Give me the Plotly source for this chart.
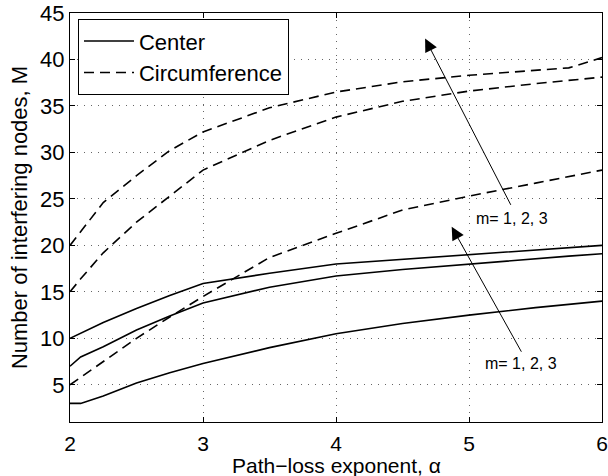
import plotly.graph_objects as go

FONT = "Liberation Sans, Arial, Helvetica, sans-serif"

alpha = [2, 2.08, 2.25, 2.5, 2.75, 3, 3.5, 4, 4.5, 5, 5.5, 5.75, 6]

center_m1 = [10, 10.55, 11.7, 13.2, 14.6, 15.9, 17.0, 18.0, 18.5, 19.0, 19.5, 19.75, 20]
center_m2 = [7, 8.0, 9.1, 10.9, 12.4, 13.8, 15.5, 16.7, 17.4, 18.0, 18.6, 18.85, 19.1]
center_m3 = [3, 3, 3.8, 5.2, 6.3, 7.3, 9.0, 10.5, 11.6, 12.5, 13.3, 13.65, 14]

circ_m1 = [20, 21.5, 24.6, 27.5, 30.2, 32.2, 34.8, 36.5, 37.6, 38.3, 38.8, 39.1, 40.2]
circ_m2 = [15, 16.4, 19.2, 22.5, 25.3, 28.1, 31.3, 33.8, 35.5, 36.6, 37.4, 37.75, 38.1]
circ_m3 = [5, 5.8, 7.5, 10.0, 12.3, 14.5, 18.7, 21.3, 23.8, 25.3, 26.7, 27.4, 28.1]

x_ticks = [2, 3, 4, 5, 6]
y_ticks = [5, 10, 15, 20, 25, 30, 35, 40, 45]

fig = go.Figure()

solid = dict(color="black", width=1.6)
dashed = dict(color="black", width=1.6, dash="10px,6px")

for i, ys in enumerate([center_m1, center_m2, center_m3]):
    fig.add_trace(go.Scatter(x=alpha, y=ys, mode="lines", line=solid,
                             name="Center", showlegend=(i == 0)))
for i, ys in enumerate([circ_m1, circ_m2, circ_m3]):
    fig.add_trace(go.Scatter(x=alpha, y=ys, mode="lines", line=dashed,
                             name="Circumference", showlegend=(i == 0)))

# arrows (tail -> head) and their labels
arrows = [((5.32, 24.2), (4.67, 42.25)), ((5.40, 8.4), (4.87, 22.0))]
for (tx, ty), (hx, hy) in arrows:
    fig.add_annotation(x=hx, y=hy, ax=tx, ay=ty, xref="x", yref="y",
                       axref="x", ayref="y", text="", showarrow=True,
                       arrowhead=2, arrowsize=2.6, arrowwidth=1, arrowcolor="black")

labels = [(5.32, 22.9), (5.39, 7.25)]
for lx, ly in labels:
    fig.add_annotation(x=lx, y=ly, xref="x", yref="y", text="m= 1, 2, 3",
                       showarrow=False, font=dict(size=16, color="black", family=FONT))

# x axis title placed by hand (sits close to the bottom edge)
fig.add_annotation(x=0.5, y=-0.106, xref="paper", yref="paper", yanchor="middle",
                   text="Path\u2212loss exponent, \u03b1", showarrow=False,
                   font=dict(size=21, color="black", family=FONT))

axis_common = dict(
    showline=True, linecolor="black", linewidth=1, mirror="ticks",
    ticks="inside", ticklen=5, tickcolor="black",
    showgrid=True, gridcolor="#666", gridwidth=1, griddash="1px,6px",
    zeroline=False, automargin=False, ticklabeloverflow="allow",
    tickfont=dict(size=22, color="black", family=FONT),
)

fig.update_layout(
    width=608, height=476,
    margin=dict(l=70, r=6, t=13, b=54),
    paper_bgcolor="white", plot_bgcolor="white",
    font=dict(family=FONT, color="black", size=22),
    xaxis=dict(range=[2, 6], tickvals=x_ticks, ticklabelstandoff=3,
               **{**axis_common, "tickfont": dict(size=21, color="black", family=FONT)}),
    yaxis=dict(range=[1, 45], tickvals=y_ticks,
               title=dict(text="Number of interfering nodes, M", standoff=6,
                          font=dict(size=22)),
               **axis_common),
    legend=dict(x=0.015, y=0.985, xanchor="left", yanchor="top",
                bgcolor="white", bordercolor="black", borderwidth=1,
                font=dict(size=22, color="black", family=FONT),
                tracegroupgap=0, itemwidth=50),
    showlegend=True,
)

fig.write_html("out.html", config={"displayModeBar": False},
               post_script="document.body.style.margin = '0';")
